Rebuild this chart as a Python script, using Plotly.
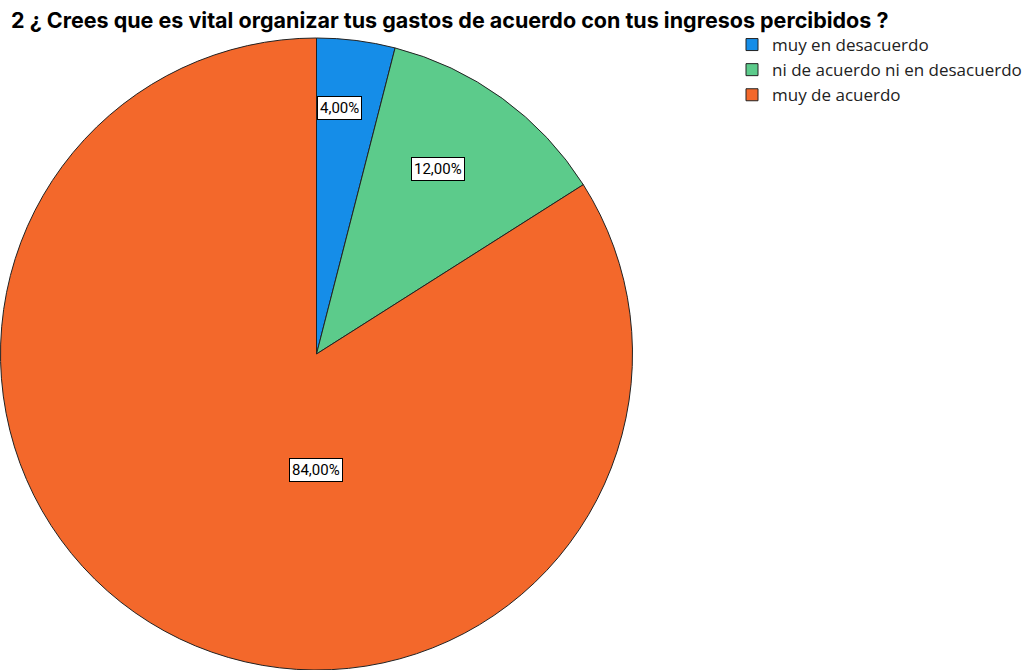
import plotly.graph_objects as go

categories = ["muy en desacuerdo", "ni de acuerdo ni en desacuerdo", "muy de acuerdo"]
values = [4.0, 12.0, 84.0]
colors = ["#158de8", "#5ccb8b", "#f3682b"]
label_texts = ["4,00%", "12,00%", "84,00%"]

W, H = 1030, 670

fig = go.Figure()
fig.add_trace(go.Pie(
    labels=categories,
    values=values,
    sort=False,
    direction="clockwise",
    rotation=0,
    marker=dict(colors=colors, line=dict(color="#222222", width=1)),
    textinfo="none",
    hoverinfo="label+percent",
    domain=dict(x=[0, 633 / W], y=[0, 632 / H]),
    showlegend=True,
))

# label boxes (pixel positions from reference)
label_px = [(339, 108), (438, 169), (316, 470)]
for (px, py), t in zip(label_px, label_texts):
    fig.add_annotation(
        x=px / W, y=1 - py / H, xref="paper", yref="paper",
        xanchor="center", yanchor="middle",
        text=t, showarrow=False,
        font=dict(family="Roboto, Arial", size=15, color="black"),
        bgcolor="white", bordercolor="black", borderwidth=1, borderpad=2,
    )

fig.update_layout(
    width=W, height=H,
    margin=dict(l=0, r=0, t=0, b=0),
    paper_bgcolor="white",
    plot_bgcolor="white",
    title=dict(
        text="<b>2 ¿ Crees que es vital organizar tus gastos de acuerdo con tus ingresos percibidos ?</b>",
        x=11 / W, xanchor="left", y=1 - 20 / H, yanchor="middle",
        font=dict(family="Inter, Roboto, Arial", size=21.5, color="black"),
    ),
    legend=dict(
        x=732 / W, y=1 - 27 / H, xanchor="left", yanchor="top",
        font=dict(family="Open Sans, Roboto, Arial", size=17, color="#222222"),
        itemwidth=30, tracegroupgap=0,
        bgcolor="rgba(0,0,0,0)",
    ),
)

fig.write_html("out.html", config={"displayModeBar": False},
               post_script="document.body.style.margin='0px';")
